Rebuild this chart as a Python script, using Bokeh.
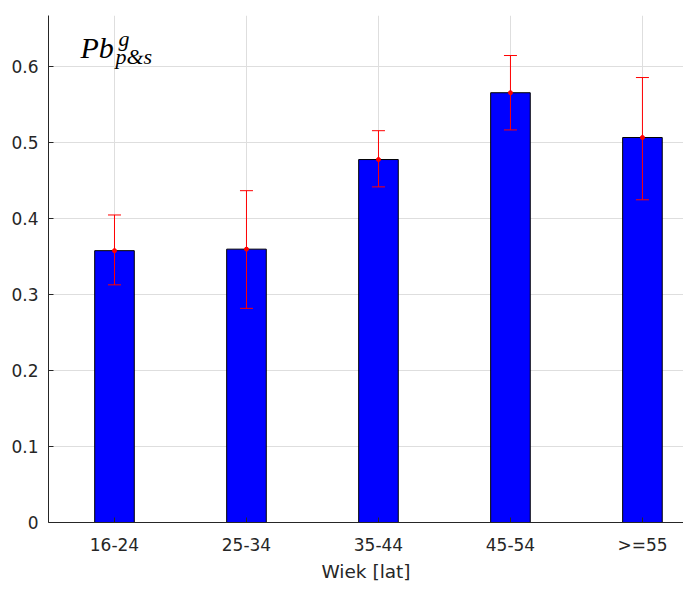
from bokeh.plotting import figure
from bokeh.models import Range1d, FixedTicker, Label, Whisker, TeeHead, ColumnDataSource
from bokeh.embed import file_html
from bokeh.resources import INLINE

categories = ["16-24", "25-34", "35-44", "45-54", ">=55"]
values = [0.358, 0.360, 0.478, 0.566, 0.507]
err_low = [0.313, 0.282, 0.442, 0.517, 0.425]
err_high = [0.405, 0.437, 0.516, 0.615, 0.586]
y_ticks = [0, 0.1, 0.2, 0.3, 0.4, 0.5, 0.6]
y_tick_labels = ["0", "0.1", "0.2", "0.3", "0.4", "0.5", "0.6"]
x_label = "Wiek [lat]"

xs = list(range(1, len(categories) + 1))
src = ColumnDataSource(dict(x=xs, top=values, lower=err_low, upper=err_high))

p = figure(width=683, height=584, output_backend="svg", toolbar_location=None,
           x_range=Range1d(0.5, 5.311), y_range=Range1d(0, 0.6677),
           min_border_left=48, min_border_right=0, min_border_top=15, min_border_bottom=40)
p.outline_line_color = None
p.background_fill_color = "white"
p.border_fill_color = "white"

p.vbar(x="x", top="top", width=0.3, source=src, fill_color="#0000ff",
       line_color="black", line_width=1)

TXT = "#262626"
RED = "#ff0000"
w = Whisker(base="x", lower="lower", upper="upper", source=src, line_color=RED, line_width=1,
            upper_head=TeeHead(size=13, line_color=RED, line_width=1),
            lower_head=TeeHead(size=13, line_color=RED, line_width=1))
w.level = "overlay"
p.add_layout(w)
p.scatter(x="x", y="top", source=src, size=4, color=RED, level="overlay")

p.xaxis.ticker = FixedTicker(ticks=xs)
p.xaxis.major_label_overrides = {x: c for x, c in zip(xs, categories)}
p.yaxis.ticker = FixedTicker(ticks=y_ticks)
p.yaxis.major_label_overrides = {t: l for t, l in zip(y_ticks, y_tick_labels)}

for ax in (p.xaxis, p.yaxis):
    ax.axis_line_color = TXT
    ax.axis_line_width = 1
    ax.major_tick_in = 5
    ax.major_tick_out = 0
    ax.minor_tick_line_color = None
    ax.major_tick_line_color = TXT
    ax.major_label_text_font = "DejaVu Sans"
    ax.major_label_text_font_size = "17px"
    ax.major_label_text_color = TXT

p.yaxis.major_label_standoff = 10
p.xaxis.major_label_standoff = 12
p.xaxis.axis_label = x_label
p.xaxis.axis_label_text_font = "DejaVu Sans"
p.xaxis.axis_label_text_font_size = "18.5px"
p.xaxis.axis_label_text_font_style = "normal"
p.xaxis.axis_label_text_color = TXT
p.xaxis.axis_label_standoff = 3

p.xgrid.ticker = FixedTicker(ticks=xs)
p.ygrid.ticker = FixedTicker(ticks=y_ticks)
for g in (p.xgrid, p.ygrid):
    g.grid_line_color = "#dedede"
    g.grid_line_width = 1

p.add_layout(Label(x=0.742, y=0.6255, text="Pb", text_font="Liberation Serif",
                   text_font_style="italic", text_font_size="30px", text_color="black",
                   text_baseline="alphabetic"))
p.add_layout(Label(x=1.03, y=0.637, text="g", text_font="Liberation Serif",
                   text_font_style="italic", text_font_size="22px", text_color="black",
                   text_baseline="alphabetic"))
p.add_layout(Label(x=1.0076, y=0.614, text="p&s", text_font="Liberation Serif",
                   text_font_style="italic", text_font_size="22px", text_color="black",
                   text_baseline="alphabetic"))

open("out.html", "w").write(file_html(p, INLINE))
